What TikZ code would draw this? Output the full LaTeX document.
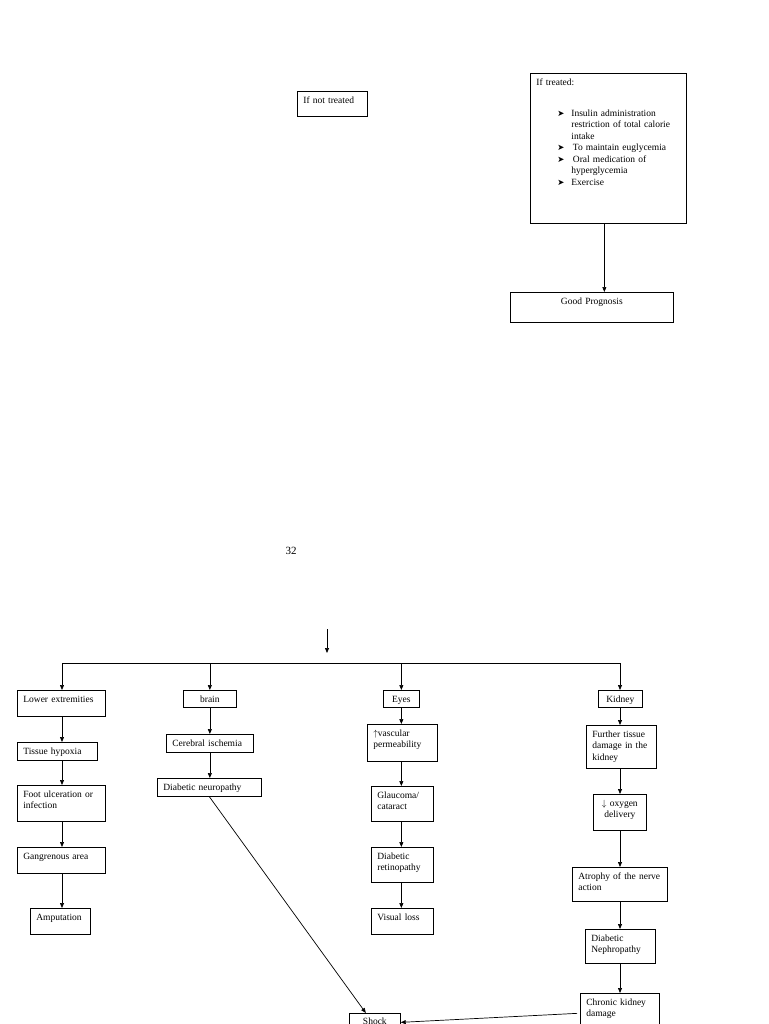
\documentclass[tikz,border=0pt]{standalone}
\usepackage{fontspec}
\setmainfont{Liberation Serif}
\newfontfamily\dingfont{DejaVu Sans}
\usetikzlibrary{arrows.meta}
\tikzstyle{arrow} = [line width=0.7pt,->,>={Triangle[length=5pt,width=4pt]}]
\tikzstyle{box} = [draw, line width=0.7pt, anchor=north west, align=left, inner xsep=6pt, inner ysep=3pt, text height=9pt, font=\fontsize{9.5}{11.5}\selectfont]
\tikzstyle{cbox} = [box, align=center]
\newcommand{\arrowbul}{\makebox[14pt][l]{\dingfont\fontsize{8.5}{8}\selectfont ➤}}

\begin{document}
\begin{tikzpicture}[x=1pt, y=-1pt]
\useasboundingbox (0,0) rectangle (768,1024);
\clip (0,0) rectangle (768,1024);

% Treatment branch
\node[box, text width=58pt, text depth=10pt] (notreated) at (297,91) {If not treated};
\node[box, text width=144pt, text depth=135pt] (treated) at (530,73) {If treated:\\[19.5pt]
\hspace*{21pt}\arrowbul Insulin administration\\
\hspace*{35pt}restriction of total calorie\\
\hspace*{35pt}intake\\
\hspace*{21pt}\arrowbul\,To maintain euglycemia\\
\hspace*{21pt}\arrowbul\,Oral medication of\\
\hspace*{35pt}hyperglycemia\\
\hspace*{21pt}\arrowbul Exercise};
\node[cbox, text width=151pt, text depth=15pt] (good) at (510,292) {Good Prognosis};
\draw[arrow] ([xshift=-4pt]treated.south) -- ([xshift=-4pt]treated.south |- good.north);

% Page number
\node[font=\fontsize{11}{13}\selectfont] (pagenum) at (291,551) {32};

% Fork
\coordinate (in) at (327,629);
\coordinate (inend) at (327,653);
\coordinate (barL) at (62,663);
\coordinate (barR) at (620,663);
\draw[arrow] (in) -- (inend);

% Lower extremities
\node[box, text width=76pt, text depth=11pt] (lower) at (17,690) {Lower extremities};
\node[box, text width=68pt, text depth=3pt] (hypox) at (17,742) {Tissue hypoxia};
\node[box, text width=76pt, text depth=21pt] (foot) at (17,785) {Foot ulceration or\\ infection};
\node[box, text width=76pt, text depth=11pt] (gang) at (17,847) {Gangrenous area};
\node[box, text width=48pt, text depth=11pt] (amput) at (30,908) {Amputation};

% Brain
\node[cbox, text width=41pt, text depth=2pt] (brain) at (183,690) {brain};
\node[box, text width=75pt, text depth=3pt] (cereb) at (166,734) {Cerebral ischemia};
\node[box, text width=92pt, text depth=3pt] (neuro) at (157,778) {Diabetic neuropathy};

% Eyes
\node[cbox, text width=24pt, text depth=2pt] (eyes) at (383,690) {Eyes};
\node[box, text width=58pt, text depth=22pt] (vasc) at (367,724) {$\uparrow$vascular\\ permeability};
\node[box, text width=50pt, text depth=20pt] (glauc) at (371,786) {Glaucoma/\\ cataract};
\node[box, text width=50pt, text depth=20pt] (retino) at (371,847) {Diabetic\\ retinopathy};
\node[box, text width=50pt, text depth=11pt] (visual) at (371,908) {Visual loss};

% Kidney
\node[cbox, text width=32pt, text depth=2pt] (kidney) at (598,690) {Kidney};
\node[box, text width=58pt, text depth=28pt] (further) at (586,725) {Further tissue\\ damage in the\\ kidney};
\node[cbox, text width=41pt, text depth=21pt] (oxygen) at (593,794) {$\downarrow$ oxygen\\ delivery};
\node[box, text width=83pt, text depth=19pt] (atrophy) at (572,867) {Atrophy of the nerve\\ action};
\node[box, text width=58pt, text depth=19pt] (nephro) at (585,929) {Diabetic\\ Nephropathy};
\node[box, text width=67pt, text depth=20pt] (chronic) at (580,993) {Chronic kidney\\ damage};
\node[cbox, text width=39pt, text height=8pt, text depth=6pt] (shock) at (349,1013) {Shock};

% Bar and drops
\draw[line width=0.7pt] (barL) -- (barR);
\draw[arrow] (barL) -- (barL |- lower.north);
\draw[arrow] (brain.north |- barL) -- (brain.north);
\draw[arrow] (eyes.north |- barL) -- (eyes.north);
\draw[arrow] (barR) -- (barR |- kidney.north);

% Column arrows
\draw[arrow] (barL |- lower.south) -- (barL |- hypox.north);
\draw[arrow] (barL |- hypox.south) -- (barL |- foot.north);
\draw[arrow] (barL |- foot.south) -- (barL |- gang.north);
\draw[arrow] (barL |- gang.south) -- (barL |- amput.north);
\draw[arrow] (brain.south) -- (brain.south |- cereb.north);
\draw[arrow] (brain.south |- cereb.south) -- (brain.south |- neuro.north);
\draw[arrow] (eyes.south) -- (eyes.south |- vasc.north);
\draw[arrow] (eyes.south |- vasc.south) -- (eyes.south |- glauc.north);
\draw[arrow] (eyes.south |- glauc.south) -- (eyes.south |- retino.north);
\draw[arrow] (eyes.south |- retino.south) -- (eyes.south |- visual.north);
\draw[arrow] (barR |- kidney.south) -- (barR |- further.north);
\draw[arrow] (barR |- further.south) -- (barR |- oxygen.north);
\draw[arrow] (barR |- oxygen.south) -- (barR |- atrophy.north);
\draw[arrow] (barR |- atrophy.south) -- (barR |- nephro.north);
\draw[arrow] (barR |- nephro.south) -- (barR |- chronic.north);

% To shock
\draw[arrow] (neuro.south) -- ([xshift=-9pt]shock.north);
\draw[arrow] ([xshift=-3pt,yshift=-2.5pt]chronic.west) -- ([yshift=1pt]shock.east);
\end{tikzpicture}
\end{document}
